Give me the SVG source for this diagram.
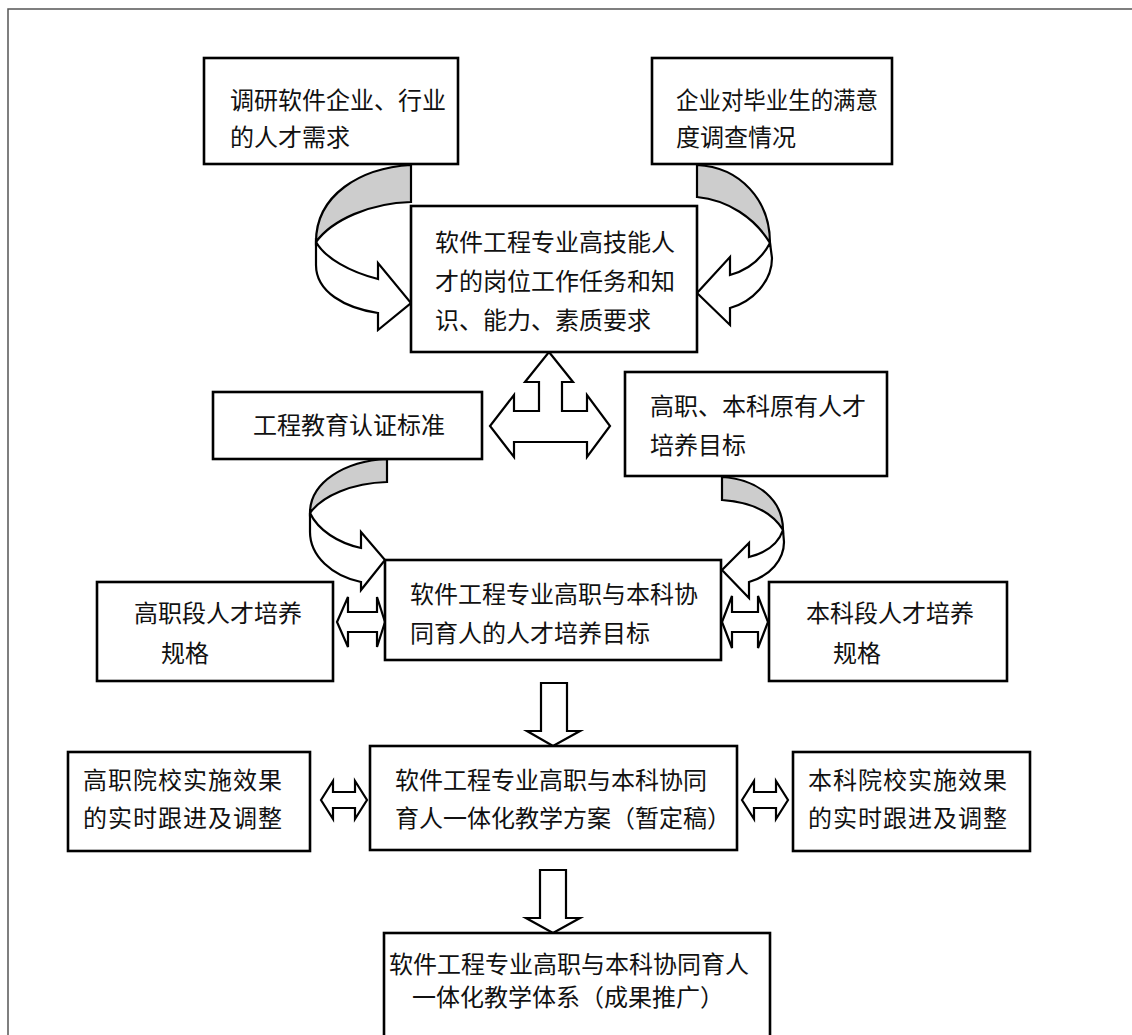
<svg xmlns="http://www.w3.org/2000/svg" width="1132" height="1035" viewBox="0 0 1132 1035">
<style>
.box{fill:#fff;stroke:#000;stroke-width:2.6}
.t{font-family:"Noto Sans CJK SC","Liberation Serif",sans-serif;font-size:24px;fill:#111}
.ar{fill:#fff;stroke:#000;stroke-width:2.2;stroke-linejoin:miter}
.sh{fill:#cdcdcd;stroke:#000;stroke-width:2.2}
.frame{fill:none;stroke:#555;stroke-width:1.5}
</style>
<rect width="1132" height="1035" fill="#fff"/>
<path class="frame" d="M8,1040 L8,9 L1140,9"/>

<g id="connectors">
  <!-- top left curved arrow -->
  <path class="sh" d="M411,165 C360,168 316,195 316,242 C332,220 370,203 411,202 Z"/>
  <path class="ar" d="M316,242 C325,258 350,272 378,279 L378,263 L411,303 L378,330 L378,313 C345,308 316,292 316,265 Z"/>
  <!-- top right curved arrow -->
  <path class="sh" d="M697,165 C740,167 770,200 770,243 C755,218 728,200 697,197 Z"/>
  <path class="ar" d="M770,243 C762,258 748,270 730,275 L730,257 L697,293 L730,325 L730,308 C752,302 772,282 772,258 Z"/>
  <!-- triple arrow -->
  <path class="ar" d="M549,352 L573,382 L562,382 L562,411 L587,411 L587,395 L610,426 L587,457 L587,442 L514,442 L514,457 L490,426 L514,395 L514,411 L539,411 L539,382 L525,382 Z"/>
  <!-- lower left curved arrow -->
  <path class="sh" d="M387,459 C345,461 310,482 310,513 C322,496 352,483 387,482 Z"/>
  <path class="ar" d="M310,513 C318,530 338,543 361,548 L361,532 L385,560 L361,590 L361,582 C332,576 310,556 310,532 Z"/>
  <!-- lower right curved arrow -->
  <path class="sh" d="M722,477 C758,479 783,500 783,530 C772,512 750,502 722,500 Z"/>
  <path class="ar" d="M783,530 C778,545 765,553 749,557 L749,543 L722,570 L749,598 L749,582 C770,576 784,560 784,542 Z"/>
  <!-- double arrows middle -->
  <path class="ar" d="M337,622 L348,597 L348,612 L377,612 L377,597 L385,622 L377,647 L377,632 L348,632 L348,647 Z"/>
  <path class="ar" d="M722,622 L732,596 L732,612 L758,612 L758,596 L768,622 L758,648 L758,632 L732,632 L732,648 Z"/>
  <!-- double arrows lower -->
  <path class="ar" d="M321,800 L333,781 L333,792 L355,792 L355,781 L367,800 L355,819 L355,808 L333,808 L333,819 Z"/>
  <path class="ar" d="M742,800 L754,781 L754,792 L776,792 L776,781 L788,800 L776,819 L776,808 L754,808 L754,819 Z"/>
  <!-- down arrows -->
  <path class="ar" d="M541,683 L567,683 L567,731 L580,731 L553,746 L527,731 L541,731 Z"/>
  <path class="ar" d="M540,870 L566,870 L566,918 L580,918 L553,933 L526,918 L540,918 Z"/>
</g>

<g id="n1"><rect class="box" x="204" y="58" width="254" height="106"/>
<text class="t" x="230" y="109">调研软件企业、行业</text><text class="t" x="230" y="146">的人才需求</text></g>
<g id="n2"><rect class="box" x="652" y="58" width="240" height="106"/>
<text class="t" x="676" y="109" textLength="202" lengthAdjust="spacingAndGlyphs">企业对毕业生的满意</text><text class="t" x="676" y="146">度调查情况</text></g>
<g id="n3"><rect class="box" x="411" y="206" width="286" height="146"/>
<text class="t" x="435" y="251">软件工程专业高技能人</text><text class="t" x="435" y="290">才的岗位工作任务和知</text><text class="t" x="435" y="329">识、能力、素质要求</text></g>
<g id="n4"><rect class="box" x="213" y="392" width="269" height="67"/>
<text class="t" x="253" y="434">工程教育认证标准</text></g>
<g id="n5"><rect class="box" x="625" y="372" width="262" height="104"/>
<text class="t" x="650" y="415">高职、本科原有人才</text><text class="t" x="650" y="454">培养目标</text></g>
<g id="n6"><rect class="box" x="385" y="560" width="336" height="100"/>
<text class="t" x="410" y="603">软件工程专业高职与本科协</text><text class="t" x="410" y="642">同育人的人才培养目标</text></g>
<g id="n7"><rect class="box" x="97" y="582" width="236" height="99"/>
<text class="t" x="134" y="622">高职段人才培养</text><text class="t" x="161" y="662">规格</text></g>
<g id="n8"><rect class="box" x="769" y="582" width="238" height="99"/>
<text class="t" x="806" y="622">本科段人才培养</text><text class="t" x="833" y="662">规格</text></g>
<g id="n9"><rect class="box" x="370" y="746" width="367" height="104"/>
<text class="t" x="395" y="789">软件工程专业高职与本科协同</text><text class="t" x="395" y="827">育人一体化教学方案（暂定稿）</text></g>
<g id="n10"><rect class="box" x="68" y="752" width="242" height="99"/>
<text class="t" x="83" y="789" letter-spacing="1">高职院校实施效果</text><text class="t" x="83" y="827" letter-spacing="1">的实时跟进及调整</text></g>
<g id="n11"><rect class="box" x="793" y="752" width="237" height="99"/>
<text class="t" x="808" y="789" letter-spacing="1">本科院校实施效果</text><text class="t" x="808" y="827" letter-spacing="1">的实时跟进及调整</text></g>
<g id="n12"><rect class="box" x="384" y="933" width="386" height="120"/>
<text class="t" x="389" y="973">软件工程专业高职与本科协同育人</text><text class="t" x="412" y="1006">一体化教学体系（成果推广）</text></g>
</svg>
